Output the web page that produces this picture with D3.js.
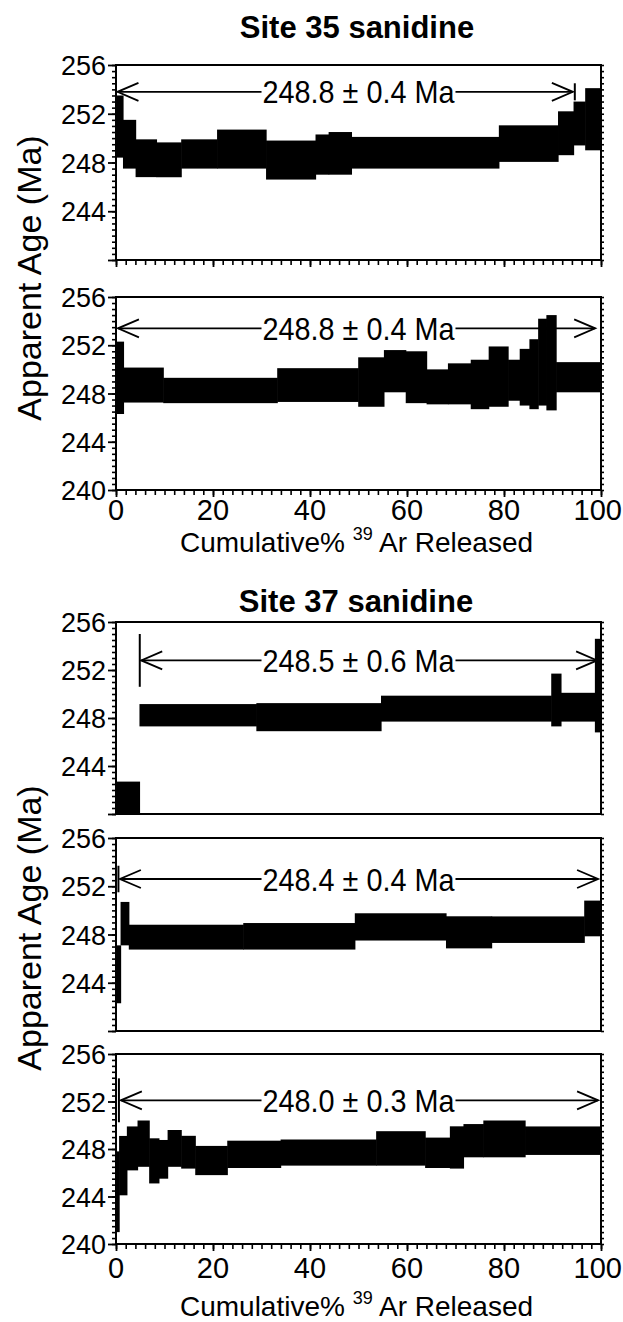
<!DOCTYPE html>
<html><head><meta charset="utf-8">
<script src="https://cdn.jsdelivr.net/npm/d3@7"></script>
<style>body{margin:0;background:#fff}svg{display:block}</style>
</head><body><svg id="c" width="623" height="1322"></svg>
<script>
// ---------- data ----------
const xTickValues = [0, 20, 40, 60, 80, 100];
const yTickValues = [240, 244, 248, 252, 256];
const siteTitles = ["Site 35 sanidine", "Site 37 sanidine"];
const xAxisTitle = ["Cumulative% ", "39", " Ar Released"];
const yAxisTitle = "Apparent Age (Ma)";

// step ends (cumulative % 39Ar), apparent ages (Ma), 2-sigma errors (Ma)
const s35aEnd = [1.5, 4.1, 8.4, 13.5, 20.9, 31.0, 41.2, 43.9, 48.6, 79.0, 91.2, 94.4, 96.8, 100];
const s35aAge = [250.95, 249.5, 248.35, 248.22, 248.7, 249.1, 248.2, 248.65, 248.75, 248.8, 249.55, 250.4, 251.2, 251.55];
const s35aErr = [2.55, 2.0, 1.55, 1.43, 1.2, 1.6, 1.6, 1.65, 1.75, 1.3, 1.5, 1.8, 1.8, 2.55];

const s35bEnd = [1.6, 9.8, 33.3, 50.0, 55.3, 59.8, 64.1, 68.5, 73.2, 76.9, 80.9, 83.3, 85.3, 87.1, 88.8, 90.8, 100];
const s35bAge = [249.3, 248.7, 248.25, 248.7, 248.95, 249.85, 249.35, 248.55, 248.8, 248.75, 249.4, 249.1, 249.35, 249.6, 250.6, 250.55, 249.35];
const s35bErr = [3.0, 1.45, 1.05, 1.4, 2.05, 1.75, 2.15, 1.45, 1.7, 2.05, 2.5, 1.7, 2.35, 2.9, 3.6, 3.95, 1.25];

const s37aEnd = [4.9, 29.0, 54.7, 89.8, 91.8, 98.8, 100];
const s37aAge = [241.25, 248.23, 248.07, 248.78, 249.5, 248.9, 250.7];
const s37aErr = [1.45, 0.93, 1.17, 1.08, 2.2, 1.2, 3.9];

const s37bEnd = [1.0, 2.7, 26.3, 49.3, 68.1, 77.5, 96.6, 100];
const s37bAge = [244.7, 248.9, 247.78, 247.85, 248.63, 248.18, 248.4, 249.33];
const s37bErr = [2.4, 1.8, 1.03, 1.1, 1.13, 1.33, 1.1, 1.48];

const s37cEnd = [0.7, 2.3, 4.5, 6.9, 8.9, 10.7, 13.5, 16.4, 23.0, 34.0, 53.7, 63.8, 68.9, 71.7, 75.8, 84.4, 100];
const s37cAge = [244.4, 246.6, 248.05, 248.45, 247.0, 247.13, 248.05, 247.73, 247.03, 247.55, 247.7, 248.05, 247.68, 248.13, 248.7, 248.85, 248.7];
const s37cErr = [3.4, 2.5, 1.85, 1.95, 1.9, 1.63, 1.55, 1.38, 1.23, 1.15, 1.1, 1.45, 1.28, 1.78, 1.4, 1.55, 1.2];

// plateau annotations
const plateauLabel = ["248.8 ± 0.4 Ma", "248.8 ± 0.4 Ma", "248.5 ± 0.6 Ma", "248.4 ± 0.4 Ma", "248.0 ± 0.3 Ma"];
const plateauAge   = [253.8, 253.4, 252.8, 252.6, 252.1];
const plateauFrom  = [0.3, 0.4, 5.2, 0.8, 1.0];
const plateauTo    = [94.2, 98.8, 99.2, 99.4, 99.4];
const plateauBarAt = [94.6, null, 4.9, 0.5, 0.6];
const plateauBarHalf = [0.7, 0, 2.2, 1.1, 1.85];

// ---------- layout ----------
const X0 = 116, X1 = 601;
const panels = [
  {end: s35aEnd, age: s35aAge, err: s35aErr, top: 65,   bot: 260,  yLabels: [244,248,252,256], bottomTicks: true,  xLabels: false},
  {end: s35bEnd, age: s35bAge, err: s35bErr, top: 297,  bot: 490,  yLabels: [240,244,248,252,256], bottomTicks: true, xLabels: true, xLabelY: 520, xTitleY: 552},
  {end: s37aEnd, age: s37aAge, err: s37aErr, top: 622,  bot: 814,  yLabels: [244,248,252,256], bottomTicks: false, xLabels: false},
  {end: s37bEnd, age: s37bAge, err: s37bErr, top: 838,  bot: 1031, yLabels: [244,248,252,256], bottomTicks: false, xLabels: false},
  {end: s37cEnd, age: s37cAge, err: s37cErr, top: 1054, bot: 1244, yLabels: [240,244,248,252,256], bottomTicks: true, xLabels: true, xLabelY: 1278, xTitleY: 1316}
];

const FONT = "'Liberation Sans', Arial, Helvetica, sans-serif";
const svg = d3.select("#c").style("font-family", FONT);
const x = d3.scaleLinear().domain([0, 100]).range([X0, X1]);

const defs = svg.append("defs");

panels.forEach((p, i) => {
  const y = d3.scaleLinear().domain([240, 256]).range([p.bot, p.top]);
  const g = svg.append("g");
  defs.append("clipPath").attr("id", "clip" + i)
    .append("rect").attr("x", X0).attr("y", p.top).attr("width", X1 - X0).attr("height", p.bot - p.top);

  // step rectangles
  const steps = p.end.map((e, k) => ({x0: k === 0 ? 0 : p.end[k - 1], x1: e, age: p.age[k], err: p.err[k]}));
  g.append("g").attr("clip-path", `url(#clip${i})`)
    .selectAll("rect").data(steps).join("rect")
    .attr("x", d => x(d.x0) - 0.3)
    .attr("width", d => x(d.x1) - x(d.x0) + 0.6)
    .attr("y", d => y(d.age + d.err))
    .attr("height", d => y(d.age - d.err) - y(d.age + d.err))
    .attr("fill", "#000");

  // left axis: minor ticks
  const left = g.append("g").attr("transform", `translate(${X0},0)`)
    .call(d3.axisLeft(y).tickValues(d3.range(240, 256.01, 0.5)).tickSize(4).tickFormat(""));
  left.select(".domain").remove();
  left.selectAll("line").attr("stroke-width", 1.6);
  // left axis: major ticks + labels
  const leftMaj = g.append("g").attr("transform", `translate(${X0},0)`)
    .call(d3.axisLeft(y).tickValues(yTickValues).tickSize(8).tickPadding(2)
      .tickFormat(v => p.yLabels.includes(v) ? v : ""));
  leftMaj.select(".domain").remove();
  leftMaj.selectAll("line").attr("stroke-width", 1.8);
  leftMaj.selectAll("text").attr("font-size", 27).attr("font-family", FONT).attr("fill", "#000").attr("dy", "0.36em");

  // right axis minor ticks
  const right = g.append("g").attr("transform", `translate(${X1},0)`)
    .call(d3.axisRight(y).tickValues(d3.range(240, 256.01, 0.5)).tickSize(3).tickFormat(""));
  right.select(".domain").remove();
  right.selectAll("line").attr("stroke-width", 1.6);

  // bottom axis
  if (p.bottomTicks) {
    const bm = g.append("g").attr("transform", `translate(0,${p.bot})`)
      .call(d3.axisBottom(x).tickValues(d3.range(0, 100.01, 2)).tickSize(5).tickFormat(""));
    bm.select(".domain").remove();
    bm.selectAll("line").attr("stroke-width", 1.6);
    const bM = g.append("g").attr("transform", `translate(0,${p.bot})`)
      .call(d3.axisBottom(x).tickValues(xTickValues).tickSize(7).tickFormat(""));
    bM.select(".domain").remove();
    bM.selectAll("line").attr("stroke-width", 1.8);
    if (p.xLabels) {
      g.append("g").selectAll("text").data(xTickValues).join("text")
        .attr("x", v => v === 100 ? 622 : x(v))
        .attr("y", p.xLabelY)
        .attr("text-anchor", v => v === 100 ? "end" : "middle")
        .attr("font-size", 29).attr("fill", "#000").text(v => v);
    }
  }

  // frame
  g.append("rect").attr("x", X0).attr("y", p.top).attr("width", X1 - X0).attr("height", p.bot - p.top)
    .attr("fill", "none").attr("stroke", "#000").attr("stroke-width", 2);

  // plateau annotation (slightly condensed text like the original)
  const ay = y(plateauAge[i]);
  const xa = x(plateauFrom[i]), xb = x(plateauTo[i]);
  const cx = (X0 + X1) / 2, sx = 0.9;
  const label = g.append("text").attr("transform", `translate(${cx},${ay}) scale(${sx},1)`)
    .attr("dy", "0.36em").attr("text-anchor", "middle").attr("font-size", 32).attr("fill", "#000")
    .text(plateauLabel[i]);
  const half = label.node().getBBox().width * sx / 2;
  g.append("line").attr("x1", xa).attr("x2", cx - half - 1).attr("y1", ay).attr("y2", ay).attr("stroke", "#000").attr("stroke-width", 1.8);
  g.append("line").attr("x1", cx + half + 1).attr("x2", xb).attr("y1", ay).attr("y2", ay).attr("stroke", "#000").attr("stroke-width", 1.8);
  const head = (tx, dir) => g.append("path")
    .attr("d", `M${tx + dir * 21},${ay - 9} L${tx},${ay} L${tx + dir * 21},${ay + 9}`)
    .attr("fill", "none").attr("stroke", "#000").attr("stroke-width", 1.8);
  head(xa, 1); head(xb, -1);
  if (plateauBarAt[i] !== null) {
    const bx = x(plateauBarAt[i]);
    g.append("line").attr("x1", bx).attr("x2", bx)
      .attr("y1", y(plateauAge[i] + plateauBarHalf[i])).attr("y2", y(plateauAge[i] - plateauBarHalf[i]))
      .attr("stroke", "#000").attr("stroke-width", 2);
  }

  // x axis title
  if (p.xLabels) {
    const t = g.append("text").attr("x", (X0 + X1) / 2 - 2).attr("y", p.xTitleY).attr("text-anchor", "middle")
      .attr("font-size", 28).attr("fill", "#000");
    t.append("tspan").text(xAxisTitle[0]);
    t.append("tspan").attr("font-size", 18).attr("dy", -12).text(xAxisTitle[1]);
    t.append("tspan").attr("dy", 12).text(xAxisTitle[2]);
  }
});

// titles
svg.append("text").attr("x", 357).attr("y", 38).attr("text-anchor", "middle")
  .attr("font-size", 31).attr("font-weight", "bold").text(siteTitles[0]);
svg.append("text").attr("x", 356).attr("y", 612).attr("text-anchor", "middle")
  .attr("font-size", 31).attr("font-weight", "bold").text(siteTitles[1]);

// y axis titles
[[41, 278], [41, 928]].forEach(([tx, ty]) => {
  svg.append("text").attr("transform", `translate(${tx},${ty}) rotate(-90)`)
    .attr("text-anchor", "middle").attr("font-size", 34).attr("fill", "#000").text(yAxisTitle);
});
</script></body></html>
